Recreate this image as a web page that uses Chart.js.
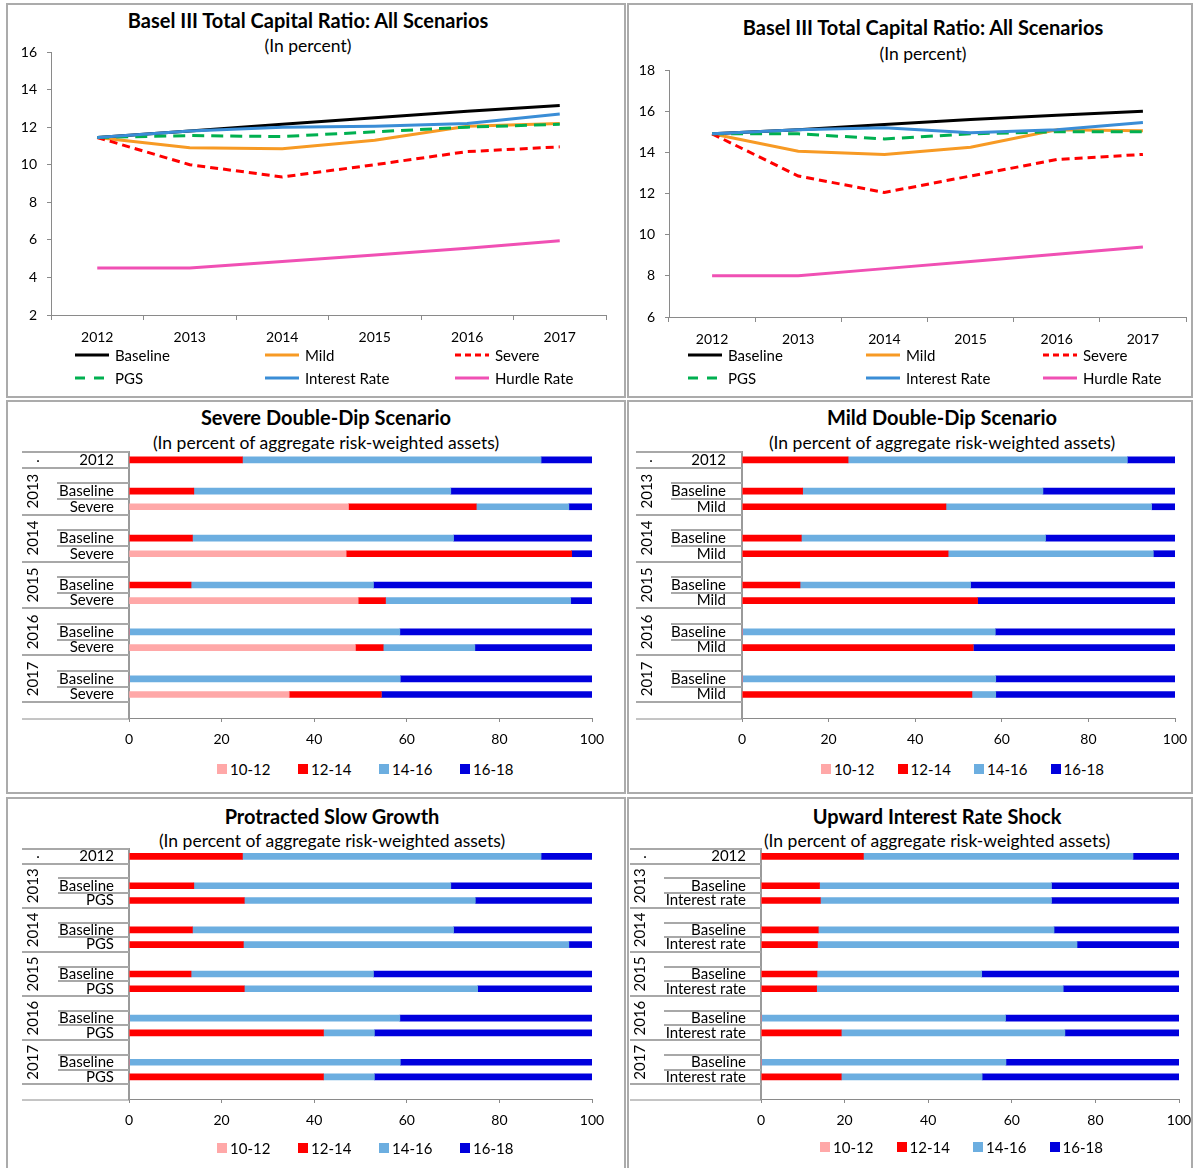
<!DOCTYPE html>
<html>
<head>
<meta charset="UTF-8">
<title>Basel III Total Capital Ratio and stress scenarios</title>
<script src="https://cdn.jsdelivr.net/npm/chart.js"></script>
<style>
    body { margin: 0; width: 1196px; height: 1168px; position: relative; overflow: hidden; background: #fff; font-family: Lato, "Open Sans", sans-serif; color: #000; }
    .panel { position: absolute; box-sizing: border-box; border: 2px solid #ababab; }
    .ttl { position: absolute; transform: translate(-50%, -50%); white-space: nowrap; font-weight: bold; font-size: 20px; }
    .sub { position: absolute; transform: translate(-50%, -50%); white-space: nowrap; font-size: 17.5px; }
    canvas { position: absolute; }
    .lg { position: absolute; transform: translateY(-50%); white-space: nowrap; font-size: 15px; display: flex; align-items: center; }
    .lg svg { margin-right: 6px; }
    .sw { display: inline-block; width: 10px; height: 10px; margin-right: 3px; }
</style>
</head>
<body>
<div class="panel" style="left:6px;top:3px;width:620px;height:395px"></div>
<div class="panel" style="left:627px;top:3px;width:566px;height:395px"></div>
<div class="panel" style="left:6px;top:400px;width:620px;height:394px"></div>
<div class="panel" style="left:627px;top:400px;width:566px;height:394px"></div>
<div class="panel" style="left:6px;top:797px;width:620px;height:380px"></div>
<div class="panel" style="left:627px;top:797px;width:566px;height:380px"></div>

<div class="ttl" style="left:308px;top:20px">Basel III Total Capital Ratio: All Scenarios</div>
<div class="sub" style="left:308px;top:45px">(In percent)</div>
<div class="ttl" style="left:923px;top:27px">Basel III Total Capital Ratio: All Scenarios</div>
<div class="sub" style="left:923px;top:53px">(In percent)</div>
<div class="ttl" style="left:326px;top:417px">Severe Double-Dip Scenario</div>
<div class="sub" style="left:326px;top:442px">(In percent of aggregate risk-weighted assets)</div>
<div class="ttl" style="left:942px;top:417px">Mild Double-Dip Scenario</div>
<div class="sub" style="left:942px;top:442px">(In percent of aggregate risk-weighted assets)</div>
<div class="ttl" style="left:332px;top:816px">Protracted Slow Growth</div>
<div class="sub" style="left:332px;top:840px">(In percent of aggregate risk-weighted assets)</div>
<div class="ttl" style="left:937px;top:816px">Upward Interest Rate Shock</div>
<div class="sub" style="left:937px;top:840px">(In percent of aggregate risk-weighted assets)</div>

<canvas id="ratioA" width="612" height="320" style="left:9px;top:30px"></canvas>
<canvas id="ratioB" width="560" height="307" style="left:630px;top:46px"></canvas>
<canvas id="severe" width="612" height="310" style="left:9px;top:446px"></canvas>
<canvas id="mild" width="580" height="310" style="left:630px;top:446px"></canvas>
<canvas id="pgs" width="612" height="300" style="left:9px;top:843px"></canvas>
<canvas id="rate" width="580" height="300" style="left:630px;top:843px"></canvas>

<script>
    // ---- line charts: total capital ratio, in percent ----
    const years = ['2012', '2013', '2014', '2015', '2016', '2017'];
    const lineNames = ['Baseline', 'Mild', 'Severe', 'PGS', 'Interest Rate', 'Hurdle Rate'];

    const ticksA = [2, 4, 6, 8, 10, 12, 14, 16];
    const baselineA = [11.45, 11.8, 12.15, 12.5, 12.85, 13.15];
    const mildA = [11.45, 10.9, 10.85, 11.3, 12.05, 12.2];
    const severeA = [11.45, 10.0, 9.35, 10.0, 10.7, 10.95];
    const pgsA = [11.45, 11.55, 11.5, 11.75, 12.0, 12.15];
    const rateA = [11.45, 11.8, 12.0, 12.05, 12.2, 12.7];
    const hurdleA = [4.5, 4.5, 4.85, 5.2, 5.55, 5.95];

    const ticksB = [6, 8, 10, 12, 14, 16, 18];
    const baselineB = [14.9, 15.1, 15.35, 15.6, 15.8, 16.0];
    const mildB = [14.9, 14.05, 13.9, 14.25, 15.1, 15.05];
    const severeB = [14.9, 12.85, 12.05, 12.85, 13.65, 13.9];
    const pgsB = [14.9, 14.9, 14.65, 14.9, 15.0, 15.0];
    const rateB = [14.9, 15.1, 15.2, 14.95, 15.1, 15.45];
    const hurdleB = [8.0, 8.0, 8.35, 8.7, 9.05, 9.4];

    // ---- bar charts: share of aggregate RWA by capital ratio band ----
    const bandLabels = ['10-12', '12-14', '14-16', '16-18'];
    const shareTicks = [0, 20, 40, 60, 80, 100];
    const scenarioYears = ['2013', '2014', '2015', '2016', '2017'];
    const shares2012 = [0, 24.5, 64.5, 11.0];
    const baselineShares = [[0, 14.0, 55.5, 30.5], [0, 13.7, 56.4, 29.9], [0, 13.4, 39.4, 47.2], [0, 0, 58.5, 41.5], [0, 0, 58.6, 41.4]];
    const severeShares = [[47.4, 27.6, 20.0, 5.0], [46.9, 48.7, 0, 4.4], [49.5, 5.9, 40.0, 4.6], [48.9, 6.0, 19.8, 25.3], [34.6, 19.9, 0, 45.5]];
    const mildShares = [[0, 47.1, 47.5, 5.4], [0, 47.6, 47.4, 5.0], [0, 54.4, 0, 45.6], [0, 53.4, 0, 46.6], [0, 53.1, 5.5, 41.4]];
    const pgsShares = [[0, 24.9, 49.9, 25.2], [0, 24.7, 70.3, 5.0], [0, 24.9, 50.4, 24.7], [0, 42.0, 11.0, 47.0], [0, 42.0, 11.0, 47.0]];
    const rateShares = [[0, 14.2, 55.3, 30.5], [0, 13.5, 62.1, 24.4], [0, 13.3, 59.0, 27.7], [0, 19.2, 53.5, 27.3], [0, 19.2, 33.7, 47.1]];

    const lineColors = ['#000000', '#F79A24', '#FF0000', '#00B050', '#3A8DD6', '#F050B4'];
    const lineDash = [[], [], [8, 5], [12, 7], [], []];
    const legendDash = ['', '', '6,4', '10,9', '', ''];
    const bandColors = ['#FFA8A8', '#FF0000', '#6CAEE0', '#0000DD'];
    const axisGray = '#8a8a8a';

    Chart.defaults.font.family = 'Lato, "Open Sans", sans-serif';
    Chart.defaults.font.size = 14;
    Chart.defaults.color = '#000';

    function linePanel(id, canvasLeft, canvasTop, plot, ticks, series, legendCols) {
        var c = document.getElementById(id);
        var datasets = series.map(function (d, i) {
            return {
                label: lineNames[i], data: d, borderColor: lineColors[i], borderWidth: 3,
                borderDash: lineDash[i], pointRadius: 0, tension: 0, fill: false, order: 6 - i
            };
        });
        new Chart(c.getContext('2d'), {
            type: 'line',
            data: { labels: years, datasets: datasets },
            options: {
                responsive: false, animation: false,
                layout: { padding: { left: 0, top: plot.y0 - canvasTop, right: c.width - (plot.x1 - canvasLeft), bottom: 0 } },
                plugins: { legend: { display: false }, tooltip: { enabled: false } },
                scales: {
                    x: {
                        offset: true,
                        grid: { offset: true, drawOnChartArea: false, tickLength: 5, color: axisGray },
                        border: { color: axisGray },
                        ticks: { padding: 9 },
                        afterFit: function (s) { s.height = c.height - (plot.y1 - canvasTop); }
                    },
                    y: {
                        min: ticks[0], max: ticks[ticks.length - 1],
                        ticks: { stepSize: 2, padding: 10 },
                        grid: { drawOnChartArea: false, tickLength: 4, color: axisGray },
                        border: { color: axisGray },
                        afterFit: function (s) { s.width = plot.x0 - canvasLeft; }
                    }
                }
            }
        });
        // legend, 3 columns x 2 rows
        lineNames.forEach(function (n, i) {
            var el = document.createElement('div');
            el.className = 'lg';
            el.style.left = legendCols[i % 3] + 'px';
            el.style.top = (i < 3 ? 355 : 378) + 'px';
            el.innerHTML = '<svg width="34" height="6"><line x1="0" y1="3" x2="34" y2="3" stroke="' + lineColors[i] +
                '" stroke-width="3" stroke-dasharray="' + legendDash[i] + '"/></svg>' + n;
            document.body.appendChild(el);
        });
    }

    linePanel('ratioA', 9, 30, { x0: 51, x1: 606, y0: 52, y1: 315 }, ticksA,
        [baselineA, mildA, severeA, pgsA, rateA, hurdleA], [75, 265, 455]);
    linePanel('ratioB', 630, 46, { x0: 669, x1: 1186, y0: 70, y1: 317 }, ticksB,
        [baselineB, mildB, severeB, pgsB, rateB, hurdleB], [688, 866, 1043]);

    // row layout: 2012, then per year a blank slot + Baseline + scenario, then a trailing blank
    const rowCount = 1 + scenarioYears.length * 3 + 1;

    const rowLabelPlugin = {
        id: 'rowLabels',
        afterDraw: function (chart, args, o) {
            var ctx = chart.ctx, area = chart.chartArea, y = chart.scales.y;
            var slot = (area.bottom - area.top) / rowCount;
            var edge = function (i) { return y.getPixelForValue(i) - slot / 2; };
            var full = o.full - o.left, inner = o.inner - o.left;
            ctx.save();
            ctx.strokeStyle = '#a8a8a8';
            ctx.lineWidth = 2;
            function hline(x0, yy, x1) { ctx.beginPath(); ctx.moveTo(x0, Math.round(yy)); ctx.lineTo(x1, Math.round(yy)); ctx.stroke(); }
            hline(full, edge(0), area.left);
            hline(full, edge(1), area.left);
            for (var g = 0; g < scenarioYears.length; g++) {
                var b = 1 + g * 3;
                hline(inner, edge(b + 1), area.left);
                hline(inner, edge(b + 2), area.left);
                hline(full, edge(b + 3), area.left);
            }
            ctx.strokeStyle = axisGray;
            ctx.lineWidth = 1;
            hline(full, area.bottom + 0.5, area.left);

            ctx.fillStyle = '#000';
            ctx.font = '15px Lato, "Open Sans", sans-serif';
            ctx.textBaseline = 'middle';
            ctx.textAlign = 'right';
            var right = o.right - o.left;
            ctx.fillText('2012', right, y.getPixelForValue(0));
            ctx.textAlign = 'center';
            ctx.fillText('.', o.dot - o.left, y.getPixelForValue(0) - 3);
            for (var k = 0; k < scenarioYears.length; k++) {
                var r = 1 + k * 3;
                ctx.textAlign = 'right';
                ctx.fillText('Baseline', right, y.getPixelForValue(r + 1));
                ctx.fillText(o.name, right, y.getPixelForValue(r + 2));
                ctx.save();
                ctx.translate(o.year - o.left, y.getPixelForValue(r + 1));
                ctx.rotate(-Math.PI / 2);
                ctx.textAlign = 'center';
                ctx.fillText(scenarioYears[k], 0, 0);
                ctx.restore();
            }
            ctx.restore();
        }
    };

    function barPanel(id, canvasLeft, canvasTop, plot, geo, shares, legend) {
        var c = document.getElementById(id);
        var labels = ['2012', ''];
        scenarioYears.forEach(function (yr) {
            labels.push(yr + ' Baseline', yr + ' ' + geo.name);
            labels.push('');
        });
        var datasets = bandLabels.map(function (band, bi) {
            var data = [shares2012[bi], null];
            for (var k = 0; k < scenarioYears.length; k++) {
                data.push(baselineShares[k][bi], shares[k][bi]);
                data.push(null);
            }
            return { label: band, data: data, backgroundColor: bandColors[bi], barThickness: 6, borderWidth: 0 };
        });
        geo.left = canvasLeft;
        new Chart(c.getContext('2d'), {
            type: 'bar',
            data: { labels: labels, datasets: datasets },
            options: {
                indexAxis: 'y', responsive: false, animation: false,
                layout: { padding: { left: 0, top: plot.y0 - canvasTop, right: c.width - (plot.x1 - canvasLeft), bottom: 0 } },
                plugins: { legend: { display: false }, tooltip: { enabled: false }, rowLabels: geo },
                scales: {
                    x: {
                        stacked: true, min: shareTicks[0], max: shareTicks[shareTicks.length - 1],
                        ticks: { stepSize: 20, padding: 9 },
                        grid: { drawOnChartArea: false, tickLength: 4, color: axisGray },
                        border: { color: axisGray },
                        afterFit: function (s) { s.height = c.height - (plot.y1 - canvasTop); }
                    },
                    y: {
                        stacked: true,
                        ticks: { display: false },
                        grid: { drawOnChartArea: false, drawTicks: false, color: axisGray },
                        border: { color: '#9a9a9a', width: 2 },
                        afterFit: function (s) { s.width = plot.x0 - canvasLeft; }
                    }
                }
            },
            plugins: [rowLabelPlugin]
        });
        bandLabels.forEach(function (band, bi) {
            var el = document.createElement('div');
            el.className = 'lg';
            el.style.left = (legend.x + legend.step * bi) + 'px';
            el.style.top = legend.y + 'px';
            el.innerHTML = '<span class="sw" style="background:' + bandColors[bi] + '"></span>' + band;
            document.body.appendChild(el);
        });
    }

    barPanel('severe', 9, 446, { x0: 129, x1: 592, y0: 452, y1: 718 },
        { name: 'Severe', full: 22, inner: 57, right: 114, year: 33, dot: 38 }, severeShares, { x: 217, step: 81, y: 769 });
    barPanel('mild', 630, 446, { x0: 742, x1: 1175, y0: 452, y1: 718 },
        { name: 'Mild', full: 636, inner: 671, right: 726, year: 647, dot: 651 }, mildShares, { x: 821, step: 76.5, y: 769 });
    barPanel('pgs', 9, 843, { x0: 129, x1: 592, y0: 849, y1: 1099 },
        { name: 'PGS', full: 22, inner: 58, right: 114, year: 33, dot: 38 }, pgsShares, { x: 217, step: 81, y: 1148 });
    barPanel('rate', 630, 843, { x0: 761, x1: 1179, y0: 849, y1: 1099 },
        { name: 'Interest rate', full: 629, inner: 664, right: 746, year: 640, dot: 645 }, rateShares, { x: 820, step: 76.5, y: 1147 });
</script>
</body>
</html>
